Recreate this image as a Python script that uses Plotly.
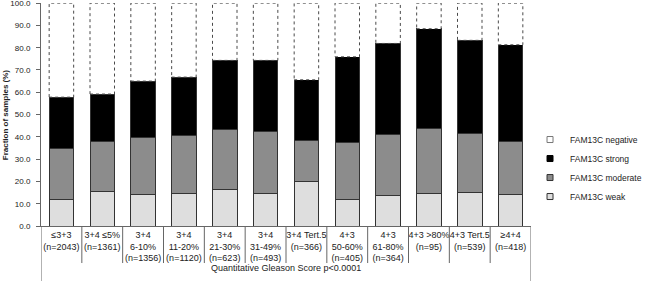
import plotly.graph_objects as go

categories = ["≤3+3<br>(n=2043)", "3+4 ≤5%<br>(n=1361)", "3+4<br>6-10%<br>(n=1356)",
              "3+4<br>11-20%<br>(n=1120)", "3+4<br>21-30%<br>(n=623)", "3+4<br>31-49%<br>(n=493)",
              "3+4 Tert.5<br>(n=366)", "4+3<br>50-60%<br>(n=405)", "4+3<br>61-80%<br>(n=364)",
              "4+3 >80%<br>(n=95)", "4+3 Tert.5<br>(n=539)", "≥4+4<br>(n=418)"]
weak = [11.8, 15.7, 14.2, 14.7, 16.6, 14.8, 20.0, 12.0, 13.8, 14.8, 15.0, 14.1]
moderate = [23.0, 22.1, 25.4, 25.8, 26.6, 27.4, 18.4, 25.4, 27.2, 29.0, 26.4, 23.7]
strong = [23.0, 21.4, 25.4, 26.3, 31.1, 32.1, 27.2, 38.5, 40.9, 44.7, 41.9, 43.5]
negative = [42.2, 40.8, 35.0, 33.2, 25.7, 25.7, 34.4, 24.1, 18.1, 11.5, 16.7, 18.7]
y_ticks = [0, 10, 20, 30, 40, 50, 60, 70, 80, 90, 100]

xs = list(range(len(categories)))
BW = 0.6
FONT = "Liberation Sans, Arial, sans-serif"

fig = go.Figure()
series = [("FAM13C weak", weak, "#dedede"),
          ("FAM13C moderate", moderate, "#8c8c8c"),
          ("FAM13C strong", strong, "#000000")]
for name, vals, col in series:
    fig.add_trace(go.Bar(x=xs, y=vals, name=name, width=BW, showlegend=False,
                         marker=dict(color=col, line=dict(color="#333333", width=1))))
fig.add_trace(go.Bar(x=xs, y=negative, name="FAM13C negative", width=BW, showlegend=False,
                     marker=dict(color="#ffffff", line=dict(width=0))))

# dotted outlines for negative segments, from the data
shapes = []
for i in xs:
    base = weak[i] + moderate[i] + strong[i]
    shapes.append(dict(type="rect", xref="x", yref="y", x0=i - BW / 2, x1=i + BW / 2,
                       y0=base, y1=base + negative[i],
                       line=dict(color="#4a4a4a", width=1, dash="dot"), fillcolor="rgba(0,0,0,0)"))
# category separators
n = len(categories)
for k in range(n + 1):
    xb = k - 0.5
    outer = k == 0 or k == n
    shapes.append(dict(type="line", xref="x", yref="paper", x0=xb, x1=xb, y0=0,
                       y1=-0.247 if outer else -0.166,
                       line=dict(color="#666666", width=1)))

# legend entries (small squares)
legend_items = [("FAM13C weak", "square", "#dedede", "#333333"),
                ("FAM13C moderate", "square", "#8c8c8c", "#333333"),
                ("FAM13C strong", "square", "#000000", "#000000"),
                ("FAM13C negative", "square", "#ffffff", "#777777")]
for name, sym, fc, lc in legend_items:
    fig.add_trace(go.Scatter(x=[None], y=[None], mode="markers", name=name,
                             marker=dict(symbol=sym, size=6, color=fc, line=dict(color=lc, width=1))))

fig.update_layout(
    width=650, height=281, barmode="stack",
    margin=dict(l=41, r=107, t=3, b=55),
    paper_bgcolor="white", plot_bgcolor="white",
    font=dict(family=FONT, color="#222222"),
    shapes=shapes,
    showlegend=True,
    legend=dict(traceorder="reversed", x=0.998, xanchor="left", y=0.26, yanchor="middle",
                font=dict(size=8.5, color="#222222"), itemwidth=30, tracegroupgap=0,
                bgcolor="rgba(0,0,0,0)"),
    xaxis=dict(range=[-0.5, n - 0.5], tickvals=xs, ticktext=categories, showgrid=False,
               ticks="", tickangle=0, tickfont=dict(size=9, color="#222222"), showline=True,
               linecolor="#666666", linewidth=1, zeroline=False, automargin=False),
    yaxis=dict(range=[0, 100.05], tickvals=y_ticks, tickformat=".1f", showgrid=False,
               ticks="outside", ticklen=4, tickcolor="#666666", ticklabeloverflow="allow",
               tickfont=dict(size=8, color="#222222"), showline=True, linecolor="#666666",
               linewidth=1, zeroline=False, ticklabelstandoff=4, automargin=False),
    annotations=[
        dict(text="Quantitative Gleason Score p<0.0001", xref="paper", yref="paper",
             x=0.5, y=-0.188, xanchor="center", yanchor="middle", showarrow=False,
             font=dict(size=9, color="#222222")),
        dict(text="<b>Fraction of samples (%)</b>", xref="paper", yref="paper",
             x=-0.072, y=0.5, xanchor="center", yanchor="middle", textangle=-90,
             showarrow=False, font=dict(size=8, color="#222222")),
    ],
)
fig.write_html("out.html", post_script="document.body.style.margin='0';",
               config={"displayModeBar": False})
